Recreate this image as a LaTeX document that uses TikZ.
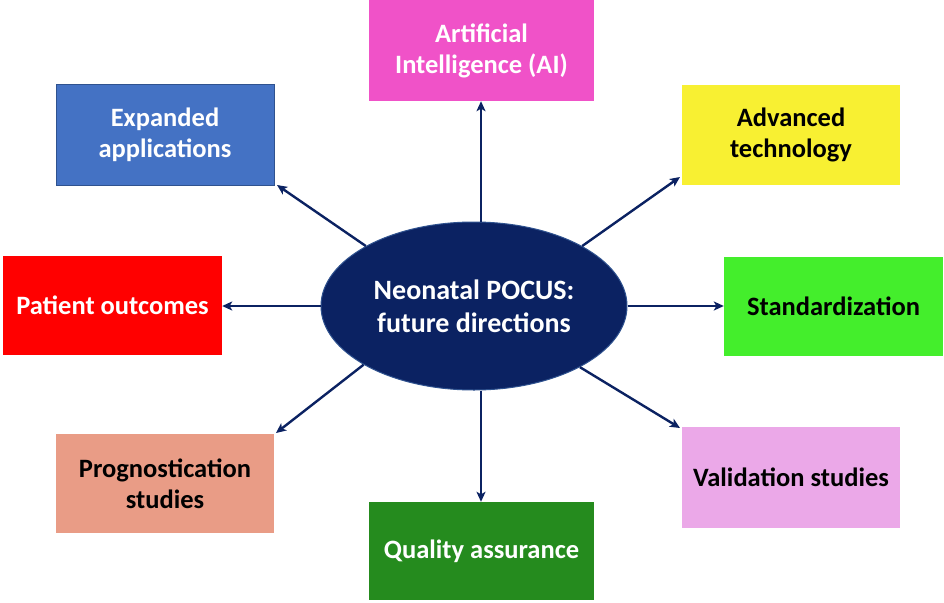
\documentclass[tikz,border=0pt]{standalone}
\usepackage{fontspec}
\setmainfont{Carlito}
\usetikzlibrary{arrows.meta,shapes.geometric}
\definecolor{navy}{HTML}{0B2262}
\definecolor{navyedge}{HTML}{2F528F}
\definecolor{cAI}{HTML}{F052C8}
\definecolor{cExp}{HTML}{4472C4}
\definecolor{cExpB}{HTML}{2F528F}
\definecolor{cAdv}{HTML}{F8F032}
\definecolor{cPat}{HTML}{FF0000}
\definecolor{cStd}{HTML}{44EE2C}
\definecolor{cPro}{HTML}{E99C86}
\definecolor{cQA}{HTML}{258B1E}
\definecolor{cVal}{HTML}{EBA8E8}
\tikzset{
  boxnode/.style={rectangle, inner sep=0pt, align=center,
    font=\fontsize{26.5}{31}\selectfont\bfseries},
  arr/.style={draw=navy, line width=2.4pt, -{Stealth[length=10pt,width=9pt,inset=2.5pt]}},
}
\begin{document}
\begin{tikzpicture}[x=1pt,y=-1pt]
\useasboundingbox[fill=white] (0,0) rectangle (944,602);
\node[ellipse, fill=navy, draw=navyedge, line width=1pt, minimum width=306pt, minimum height=168pt, inner sep=0pt, align=center, text=white, font=\fontsize{28}{33}\selectfont\bfseries] (e) at (474,306) {Neonatal POCUS:\\future directions};
\node[boxnode, fill=cAI, text=white, minimum width=225pt, minimum height=101pt] (ai) at (481.5,50.5) {Artificial\\Intelligence (AI)};
\node[boxnode, fill=cExp, draw=cExpB, line width=1pt, text=white, minimum width=218pt, minimum height=101pt] (ex) at (165,134.5) {Expanded\\applications};
\node[boxnode, fill=cAdv, text=black, minimum width=218pt, minimum height=100pt] (ad) at (791,135) {Advanced\\technology};
\node[boxnode, fill=cPat, text=white, minimum width=219pt, minimum height=99pt] (po) at (112.5,305.5) {Patient outcomes};
\node[boxnode, fill=cStd, text=black, minimum width=219pt, minimum height=99pt] (st) at (833.5,306.5) {Standardization};
\node[boxnode, fill=cPro, text=black, minimum width=218pt, minimum height=99pt] (pr) at (165,483.5) {Prognostication\\studies};
\node[boxnode, fill=cQA, text=white, minimum width=225pt, minimum height=98pt] (qa) at (481.5,551) {Quality assurance};
\node[boxnode, fill=cVal, text=black, minimum width=218pt, minimum height=101pt] (va) at (791,477.5) {Validation studies};
\coordinate (vx) at (481,306);
\coordinate (tUL) at (277,185);
\coordinate (tUR) at (680,177);
\coordinate (tLL) at (276,433);
\coordinate (tLR) at (680,428);
\draw[arr] (e.north -| vx) -- (ai.south -| vx);
\draw[arr] (e.south -| vx) -- (qa.north -| vx);
\draw[arr] (e.west) -- (po.east |- e.west);
\draw[arr] (e.east) -- (st.west |- e.east);
\draw[arr] (e.151.6) -- (tUL);
\draw[arr] (e.29.05) -- (tUR);
\draw[arr] (e.208.8) -- (tLL);
\draw[arr] (e.330.5) -- (tLR);
\end{tikzpicture}
\end{document}
